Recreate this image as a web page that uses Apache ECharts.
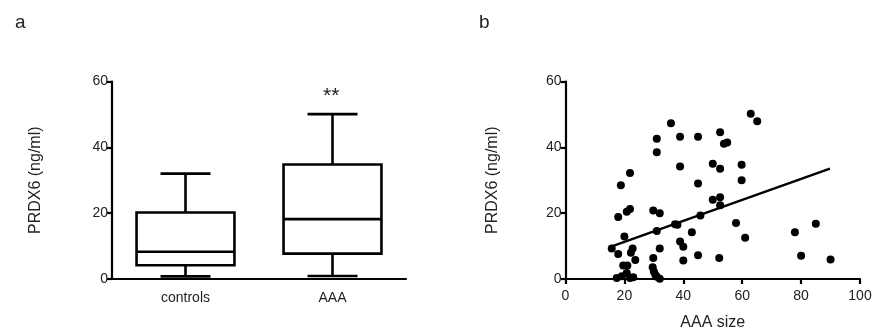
<!DOCTYPE html>
<html>
<head>
<meta charset="utf-8">
<script src="https://cdn.jsdelivr.net/npm/echarts@6/dist/echarts.min.js"></script>
<style>
html,body{margin:0;padding:0;background:#fff;}
#c{width:873px;height:331px;}
</style>
</head>
<body>
<div id="c"></div>
<script>
// ---- Data ----
var boxCategories = ['controls', 'AAA'];
// [min, Q1, median, Q3, max]
var controlsBox = [0.8, 4.2, 8.3, 20.2, 32.0];
var aaaBox = [0.9, 7.7, 18.2, 34.8, 50.1];
var boxTicks = [0, 20, 40, 60];

var aaaSize = [35.8, 31.0, 31.0, 38.9, 45.0, 52.5, 38.9, 50.0, 52.5, 45.0,
  21.9, 18.8, 50.0, 52.5, 52.5, 21.9, 20.8, 17.9, 29.8, 32.0,
  45.8, 37.2, 38.0, 31.0, 42.9, 20.0, 15.7, 17.9, 22.8, 22.2,
  23.7, 32.0, 38.9, 40.0, 40.0, 45.0, 52.2, 29.8, 19.6, 21.0,
  29.6, 30.0, 30.5, 31.0, 32.0, 17.4, 19.1, 20.8, 21.9, 23.0,
  62.9, 65.1, 53.8, 54.9, 59.8, 59.8, 57.9, 61.0, 77.9, 85.0,
  80.0, 90.0];
var prdx6 = [47.3, 42.6, 38.5, 43.2, 43.2, 44.6, 34.2, 35.0, 33.5, 29.0,
  32.2, 28.5, 24.1, 24.8, 22.4, 21.3, 20.4, 18.8, 20.8, 20.0,
  19.3, 16.6, 16.5, 14.6, 14.2, 12.9, 9.3, 7.6, 9.3, 8.0,
  5.8, 9.3, 11.4, 9.8, 5.6, 7.2, 6.4, 6.4, 4.1, 4.1,
  3.6, 2.3, 1.3, 0.7, 0.1, 0.3, 0.8, 1.8, 0.3, 0.5,
  50.2, 47.9, 41.1, 41.5, 34.7, 30.0, 17.0, 12.5, 14.2, 16.8,
  7.1, 5.9];
var fitX = [15.7, 89.8];
var fitY = [9.9, 33.5];
var scatterXTicks = [0, 20, 40, 60, 80, 100];

// ---- Build ----
var boxData = [
  [0].concat(controlsBox),
  [1].concat(aaaBox)
];
var scatterData = aaaSize.map(function (x, i) { return [x, prdx6[i]]; });
var fitData = fitX.map(function (x, i) { return [x, fitY[i]]; });

var FONT = '"Liberation Sans", Arial, sans-serif';
var TXT = '#222';
var LW = 2.2;

function axisCommon() {
  return {
    axisLine: { show: true, onZero: false, lineStyle: { color: '#000', width: LW } },
    axisTick: { show: true, length: 5, lineStyle: { color: '#000', width: LW } },
    splitLine: { show: false },
    axisLabel: { color: TXT, fontSize: 14, fontFamily: FONT, margin: 4 }
  };
}

var yBox = Object.assign(axisCommon(), {
  type: 'value', gridIndex: 0, min: 0, max: 60, interval: 20,
  name: 'PRDX6 (ng/ml)', nameLocation: 'middle', nameRotate: 90, nameGap: 68,
  nameTextStyle: { color: TXT, fontSize: 16, fontFamily: FONT }
});
var xBox = Object.assign(axisCommon(), {
  type: 'category', gridIndex: 0, data: boxCategories,
  axisTick: { show: false }
});
xBox.axisLabel = { color: TXT, fontSize: 14, fontFamily: FONT, margin: 12 };

var yScat = Object.assign(axisCommon(), {
  type: 'value', gridIndex: 1, min: 0, max: 60, interval: 20,
  name: 'PRDX6 (ng/ml)', nameLocation: 'middle', nameRotate: 90, nameGap: 65,
  nameTextStyle: { color: TXT, fontSize: 16, fontFamily: FONT }
});
var xScat = Object.assign(axisCommon(), {
  type: 'value', gridIndex: 1, min: 0, max: 100, interval: 20,
  name: 'AAA size', nameLocation: 'middle', nameGap: 36,
  nameTextStyle: { color: TXT, fontSize: 16, fontFamily: FONT }
});
xScat.axisLabel = { color: TXT, fontSize: 14, fontFamily: FONT, margin: 10 };

var chart = echarts.init(document.getElementById('c'), null, { renderer: 'canvas' });
chart.setOption({
  backgroundColor: '#fff',
  animation: false,
  title: [
    { text: 'a', left: 10, top: 8, textStyle: { fontSize: 19, fontWeight: 'normal', color: TXT, fontFamily: FONT } },
    { text: 'b', left: 474, top: 8, textStyle: { fontSize: 19, fontWeight: 'normal', color: TXT, fontFamily: FONT } }
  ],
  grid: [
    { left: 112, top: 81.5, width: 294, height: 197.5, containLabel: false, outerBoundsMode: 'none' },
    { left: 565.5, top: 81.5, width: 294.5, height: 197.5, containLabel: false, outerBoundsMode: 'none' }
  ],
  xAxis: [xBox, xScat],
  yAxis: [yBox, yScat],
  graphic: [
    { type: 'text', left: 323, top: 86, style: { text: '**', fontSize: 21, fontFamily: FONT, fill: TXT } }
  ],
  series: [
    {
      type: 'custom', xAxisIndex: 0, yAxisIndex: 0,
      data: boxData,
      renderItem: function (params, api) {
        var c = api.value(0);
        var mn = api.value(1), q1 = api.value(2), md = api.value(3), q3 = api.value(4), mx = api.value(5);
        var band = api.size([1, 0])[0];
        var half = band * 0.333;
        var capHalf = band * 0.17;
        var p = function (v) { return api.coord([c, v]); };
        var cx = p(md)[0];
        var yMin = p(mn)[1], yQ1 = p(q1)[1], yMd = p(md)[1], yQ3 = p(q3)[1], yMax = p(mx)[1];
        var st = { stroke: '#000', lineWidth: 2.6, fill: null };
        return {
          type: 'group',
          children: [
            { type: 'rect', shape: { x: cx - half, y: yQ3, width: half * 2, height: yQ1 - yQ3 }, style: { stroke: '#000', lineWidth: 2.6, fill: '#fff' } },
            { type: 'line', shape: { x1: cx - half, y1: yMd, x2: cx + half, y2: yMd }, style: st },
            { type: 'line', shape: { x1: cx, y1: yQ3, x2: cx, y2: yMax }, style: st },
            { type: 'line', shape: { x1: cx, y1: yQ1, x2: cx, y2: yMin }, style: st },
            { type: 'line', shape: { x1: cx - capHalf, y1: yMax, x2: cx + capHalf, y2: yMax }, style: st },
            { type: 'line', shape: { x1: cx - capHalf, y1: yMin, x2: cx + capHalf, y2: yMin }, style: st }
          ]
        };
      }
    },
    {
      type: 'scatter', xAxisIndex: 1, yAxisIndex: 1,
      data: scatterData, symbol: 'circle', symbolSize: 8,
      itemStyle: { color: '#000', opacity: 1 }, z: 3
    },
    {
      type: 'line', xAxisIndex: 1, yAxisIndex: 1,
      data: fitData, symbol: 'none',
      lineStyle: { color: '#000', width: 2.4 }, z: 4
    }
  ]
});
</script>
</body>
</html>
